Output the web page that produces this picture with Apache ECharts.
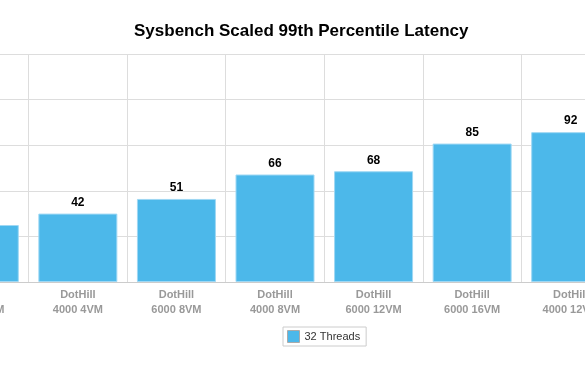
<!DOCTYPE html>
<html>
<head>
<meta charset="utf-8">
<script src="https://cdn.jsdelivr.net/npm/echarts@6/dist/echarts.min.js"></script>
<style>
  html, body { margin: 0; padding: 0; background: #fff; overflow: hidden; }
  /* the original chart is wider than the shot, so the canvas is cropped on both sides */
  #chart { width: 690px; height: 375px; margin-left: -70px; }
</style>
</head>
<body>
<div id="chart"></div>
<script>
// values; chart is cropped at both sides
var categories = [
  'DotHill\n6000 4VM',
  'DotHill\n4000 4VM',
  'DotHill\n6000 8VM',
  'DotHill\n4000 8VM',
  'DotHill\n6000 12VM',
  'DotHill\n6000 16VM',
  'DotHill\n4000 12VM'
];
var threads32 = [35, 42, 51, 66, 68, 85, 92];
var seriesName = '32 Threads';

var font = '"Liberation Sans", Arial, Helvetica, sans-serif';
var chart = echarts.init(document.getElementById('chart'));

chart.setOption({
  animation: false,
  title: {
    text: 'Sysbench Scaled 99th Percentile Latency',
    left: 199,
    top: 18,
    textStyle: { fontFamily: font, fontSize: 17, fontWeight: 'bold', color: '#000' }
  },
  legend: {
    data: [seriesName],
    left: 353,
    top: 327,
    icon: 'rect',
    itemWidth: 12,
    itemHeight: 12,
    itemGap: 5,
    padding: [3, 6, 3, 4],
    borderColor: '#ccc',
    borderWidth: 1,
    itemStyle: { borderColor: '#aaa', borderWidth: 1 },
    textStyle: { fontFamily: font, fontSize: 11, color: '#333' }
  },
  grid: { left: 0, right: 0, top: 54, bottom: 93 },
  xAxis: {
    type: 'category',
    data: categories,
    axisTick: { show: false },
    axisLine: { lineStyle: { color: '#ccc' } },
    splitLine: { show: true, lineStyle: { color: '#ddd' } },
    axisLabel: {
      fontFamily: font, fontSize: 11, fontWeight: 'bold', color: '#999',
      lineHeight: 15, margin: 5, interval: 0
    }
  },
  yAxis: {
    type: 'value',
    min: 0,
    max: 140,
    interval: 28,
    axisLabel: { show: false },
    axisLine: { show: false },
    axisTick: { show: false },
    splitLine: { lineStyle: { color: '#ddd' } }
  },
  series: [{
    name: seriesName,
    type: 'bar',
    data: threads32,
    barWidth: 79,
    itemStyle: { color: '#4cb8ea', borderColor: '#9fd8f4', borderWidth: 1 },
    label: {
      show: true,
      position: 'top',
      distance: 5,
      fontFamily: font, fontSize: 12, fontWeight: 'bold', color: '#000'
    }
  }]
});
</script>
</body>
</html>
